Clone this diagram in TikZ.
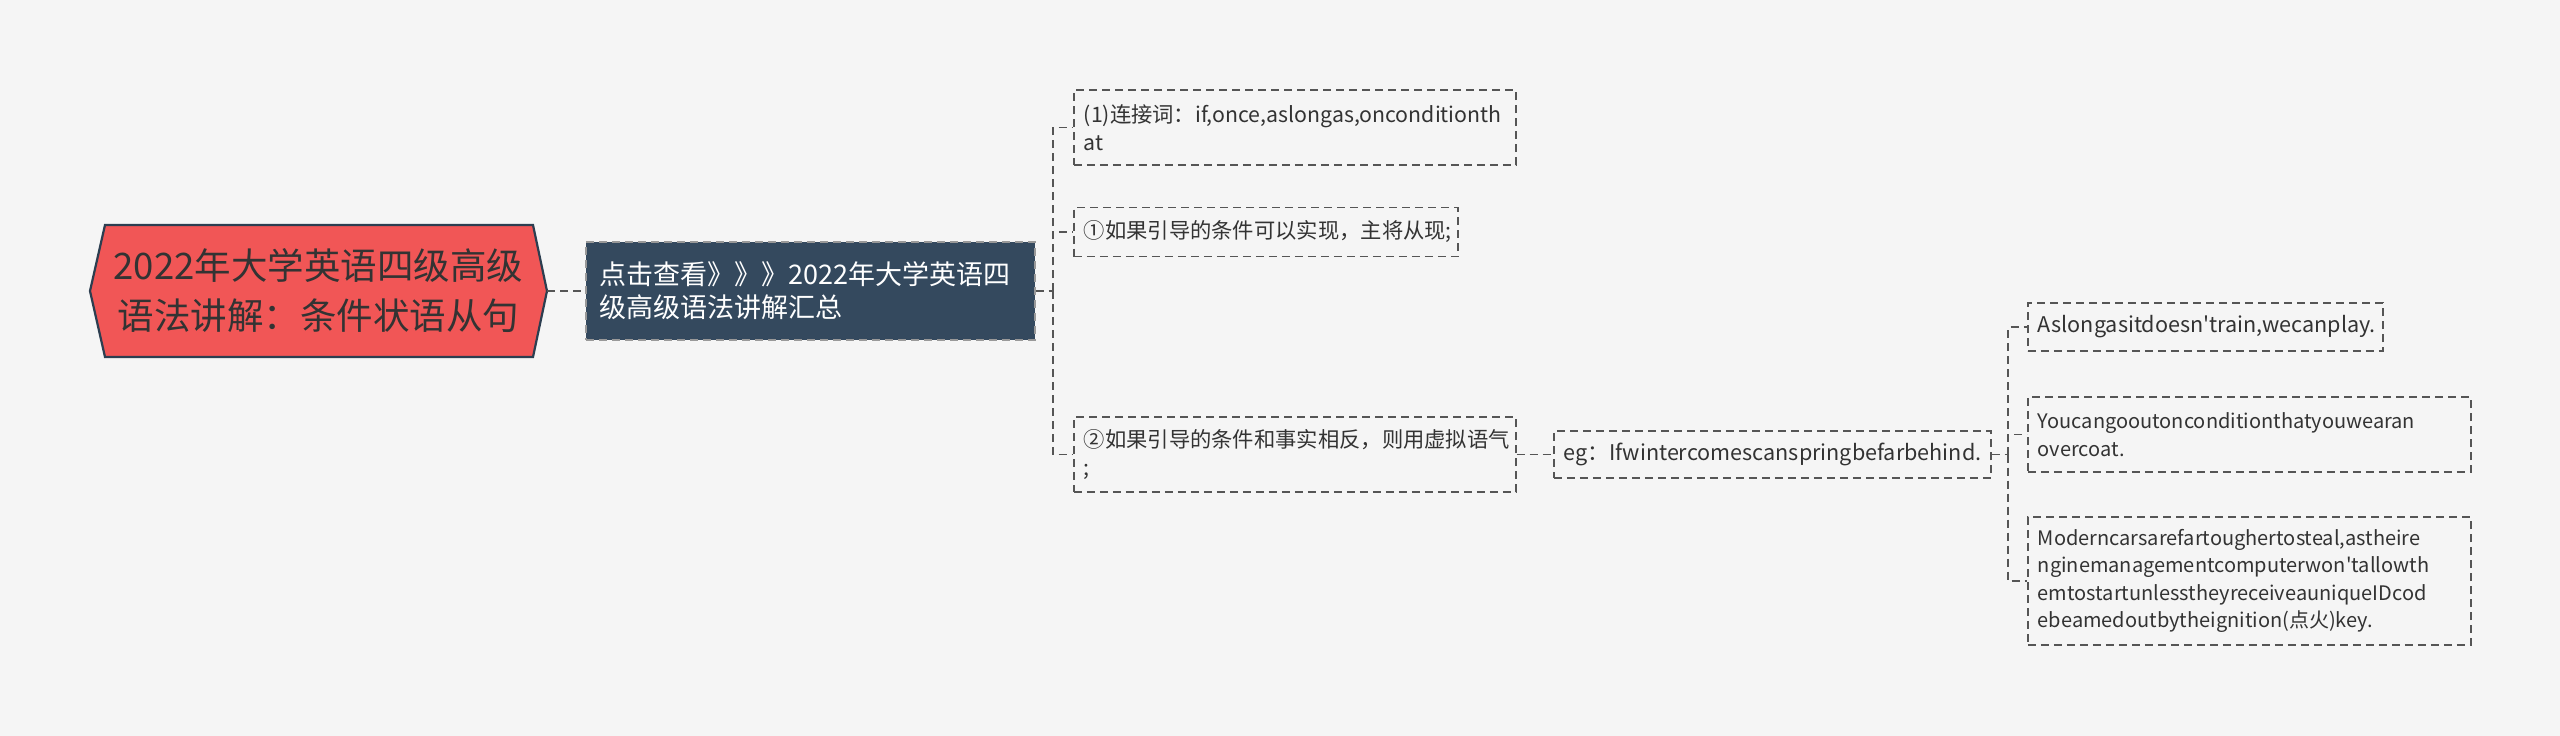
\documentclass[tikz,border=0pt]{standalone}
\usepackage{fontspec}
\newfontfamily\cjk{Noto Sans CJK SC}
\definecolor{bgc}{RGB}{245,245,245}
\definecolor{rootfill}{RGB}{241,86,86}
\definecolor{navy}{RGB}{44,62,80}
\definecolor{childfill}{RGB}{52,73,94}
\definecolor{txt}{RGB}{51,51,51}
\definecolor{linec}{RGB}{85,85,85}
\begin{document}
\begin{tikzpicture}[x=1pt,y=-1pt,
  dashpat/.style={dash pattern=on 8pt off 5pt, line width=1.7pt},
  conn/.style={draw=linec, dashpat},
  roottext/.style={font=\cjk\fontsize{36.5}{50}\selectfont, text=txt, align=center, minimum width=457pt, minimum height=132pt, inner sep=0pt},
  childbox/.style={draw=linec!60!white, dashpat, fill=childfill, text=white, font=\cjk\fontsize{27}{33}\selectfont, align=left, anchor=west, inner xsep=14pt, inner ysep=0pt},
  leaf/.style={draw=linec, dashpat, text=txt, align=left, anchor=west, inner xsep=10pt, inner ysep=0pt},
  fa/.style={font=\cjk\fontsize{21.3}{27.5}\selectfont},
  fb/.style={font=\cjk\fontsize{20}{27.5}\selectfont},
  fc/.style={font=\cjk\fontsize{21.6}{27.5}\selectfont}
]
\path[fill=bgc] (0,0) rectangle (2560,736);
\useasboundingbox (0,0) rectangle (2560,736);
% root hexagon
\draw[fill=rootfill, draw=navy, line width=2.2pt, line join=miter] (90,291) -- (105,225) -- (533,225) -- (547,291) -- (533,357) -- (105,357) -- cycle;
\node[roottext] (root) at (318.5,291) {2022年大学英语四级高级\\语法讲解：条件状语从句};
% child
\node[childbox, text width=421pt, minimum height=98pt] (child) at (585,291) {点击查看》》》2022年大学英语四\\级高级语法讲解汇总};
% level 2
\node[leaf, fa, text width=422pt, minimum height=75pt] (n1) at (1073,127.5) {(1)连接词：if,once,aslongas,onconditionth\\at};
\node[leaf, fa, text width=364pt, minimum height=49pt] (n2) at (1073,232) {①如果引导的条件可以实现，主将从现;};
\node[leaf, fa, text width=422pt, minimum height=75pt] (n3) at (1073,454.5) {②如果引导的条件和事实相反，则用虚拟语气\\;};
% level 3
\node[leaf, fc, text width=417pt, minimum height=47pt] (eg) at (1553,454.5) {eg：Ifwintercomescanspringbefarbehind.};
% level 4
\node[leaf, fc, text width=335pt, minimum height=48pt] (a) at (2027,327) {Aslongasitdoesn'train,wecanplay.};
\node[leaf, fb, text width=423pt, minimum height=75pt] (y) at (2027,434.5) {Youcangooutonconditionthatyouwearan\\overcoat.};
\node[leaf, fb, text width=423pt, minimum height=128pt] (m) at (2027,581) {Moderncarsarefartoughertosteal,astheire\\nginemanagementcomputerwon'tallowth\\emtostartunlesstheyreceiveauniqueIDcod\\ebeamedoutbytheignition(点火)key.};
% bus coordinates
\coordinate (b1) at (1053,291);
\coordinate (b2) at (2008,454.5);
% connectors
\draw[conn] (root.east) -- (child.west);
\draw[conn] (child.east) -- (b1);
\draw[conn] (b1) |- (n1.west);
\draw[conn] (b1) |- (n2.west);
\draw[conn] (b1) |- (n3.west);
\draw[conn] (n3.east) -- (eg.west);
\draw[conn] (eg.east) -- (b2);
\draw[conn] (b2) |- (a.west);
\draw[conn] (b2) |- (y.west);
\draw[conn] (b2) |- (m.west);
\end{tikzpicture}
\end{document}
